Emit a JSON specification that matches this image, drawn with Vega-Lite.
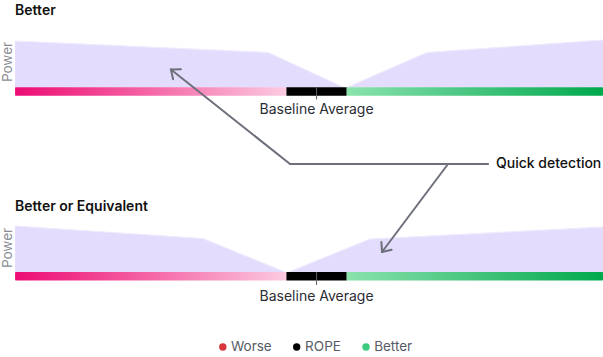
{
  "$schema": "https://vega.github.io/schema/vega-lite/v6.json",
  "width": 603,
  "height": 357,
  "padding": 0,
  "autosize": "none",
  "background": "white",
  "config": {"view": {"stroke": null}, "font": "Inter"},
  "datasets": {
    "areas": [
      {"panel": "Better", "side": "1L", "x": -1.0, "y": 41, "base": 87.5},
      {"panel": "Better", "side": "1L", "x": -0.161, "y": 52.5, "base": 87.5},
      {"panel": "Better", "side": "1L", "x": 0.091, "y": 87.5, "base": 87.5},
      {"panel": "Better", "side": "1R", "x": 0.1, "y": 87.5, "base": 87.5},
      {"panel": "Better", "side": "1R", "x": 0.366, "y": 52.5, "base": 87.5},
      {"panel": "Better", "side": "1R", "x": 0.95, "y": 40, "base": 87.5},
      {"panel": "Better or Equivalent", "side": "2L", "x": -1.0, "y": 226, "base": 272},
      {"panel": "Better or Equivalent", "side": "2L", "x": -0.377, "y": 238.5, "base": 272},
      {"panel": "Better or Equivalent", "side": "2L", "x": -0.105, "y": 272, "base": 272},
      {"panel": "Better or Equivalent", "side": "2R", "x": -0.092, "y": 272, "base": 272},
      {"panel": "Better or Equivalent", "side": "2R", "x": 0.177, "y": 239, "base": 272},
      {"panel": "Better or Equivalent", "side": "2R", "x": 0.95, "y": 227, "base": 272}
    ],
    "bars": [
      {"panel": "Better", "x": -1.0, "x2": -0.1, "y": 87.3, "y2": 95.8, "seg": "Worse"},
      {"panel": "Better", "x": -0.1, "x2": 0.1, "y": 87.3, "y2": 95.8, "seg": "ROPE"},
      {"panel": "Better", "x": 0.1, "x2": 0.95, "y": 87.3, "y2": 95.8, "seg": "Better"},
      {"panel": "Better or Equivalent", "x": -1.0, "x2": -0.1, "y": 272, "y2": 280.5, "seg": "Worse"},
      {"panel": "Better or Equivalent", "x": -0.1, "x2": 0.1, "y": 272, "y2": 280.5, "seg": "ROPE"},
      {"panel": "Better or Equivalent", "x": 0.1, "x2": 0.95, "y": 272, "y2": 280.5, "seg": "Better"}
    ],
    "ticks": [
      {"x": 0, "y": 87.3, "y2": 99.5},
      {"x": 0, "y": 272, "y2": 285}
    ],
    "baselines": [
      {"x": 0, "y": 110, "label": "Baseline Average"},
      {"x": 0, "y": 296.5, "label": "Baseline Average"}
    ],
    "titles": [
      {"x": -1.0, "y": 10.5, "label": "Better"},
      {"x": -1.0, "y": 206.5, "label": "Better or Equivalent"}
    ],
    "ylabels": [
      {"x": -1.024, "y": 62, "label": "Power"},
      {"x": -1.024, "y": 248, "label": "Power"}
    ],
    "arrows": [
      {"x": -0.088, "y": 164, "x2": -0.483, "y2": 69.5},
      {"x": -0.483, "y": 69.5, "x2": -0.450, "y2": 69.2},
      {"x": -0.483, "y": 69.5, "x2": -0.476, "y2": 79.3},
      {"x": -0.088, "y": 164, "x2": 0.569, "y2": 164},
      {"x": 0.436, "y": 164, "x2": 0.217, "y2": 252},
      {"x": 0.217, "y": 252, "x2": 0.215, "y2": 242},
      {"x": 0.217, "y": 252, "x2": 0.249, "y2": 249.7}
    ],
    "notes": [
      {"x": 0.595, "y": 163.5, "label": "Quick detection"}
    ],
    "legend": [
      {"dot": -0.311, "x": -0.284, "y": 347, "label": "Worse"},
      {"dot": -0.066, "x": -0.038, "y": 347, "label": "ROPE"},
      {"dot": 0.164, "x": 0.191, "y": 347, "label": "Better"}
    ]
  },
  "encoding": {},
  "layer": [
    {
      "data": {"name": "areas"},
      "mark": {"type": "area", "fill": "#e4dcfc", "fillOpacity": 1, "opacity": 1},
      "encoding": {
        "x": {"field": "x", "type": "quantitative", "scale": {"domain": [-1.05, 0.95], "nice": false, "zero": false}, "axis": null},
        "y": {"field": "y", "type": "quantitative", "stack": null, "scale": {"domain": [0, 357], "reverse": true, "nice": false, "zero": false}, "axis": null},
        "y2": {"field": "base"},
        "detail": {"field": "side", "type": "nominal"}
      }
    },
    {
      "data": {"name": "areas"},
      "mark": {"type": "line", "color": "#efeafe", "strokeWidth": 1.2},
      "encoding": {
        "x": {"field": "x", "type": "quantitative"},
        "y": {"field": "y", "type": "quantitative"},
        "detail": {"field": "side", "type": "nominal"}
      }
    },
    {
      "data": {"name": "bars"},
      "transform": [{"filter": "datum.seg === 'Worse'"}],
      "mark": {"type": "rect", "cornerRadiusTopLeft": 1, "cornerRadiusBottomLeft": 1, "fill": {"gradient": "linear", "x1": 0, "x2": 1, "y1": 0, "y2": 0, "stops": [{"offset": 0, "color": "#ec0c73"}, {"offset": 0.5, "color": "#f566a6"}, {"offset": 1, "color": "#fccbe1"}]}},
      "encoding": {
        "x": {"field": "x", "type": "quantitative"},
        "x2": {"field": "x2"},
        "y": {"field": "y", "type": "quantitative"},
        "y2": {"field": "y2"}
      }
    },
    {
      "data": {"name": "bars"},
      "transform": [{"filter": "datum.seg === 'ROPE'"}],
      "mark": {"type": "rect", "fill": "#000000"},
      "encoding": {
        "x": {"field": "x", "type": "quantitative"},
        "x2": {"field": "x2"},
        "y": {"field": "y", "type": "quantitative"},
        "y2": {"field": "y2"}
      }
    },
    {
      "data": {"name": "bars"},
      "transform": [{"filter": "datum.seg === 'Better'"}],
      "mark": {"type": "rect", "cornerRadiusTopRight": 1, "cornerRadiusBottomRight": 1, "fill": {"gradient": "linear", "x1": 0, "x2": 1, "y1": 0, "y2": 0, "stops": [{"offset": 0, "color": "#8ae3ab"}, {"offset": 0.5, "color": "#45c47e"}, {"offset": 1, "color": "#00a94c"}]}},
      "encoding": {
        "x": {"field": "x", "type": "quantitative"},
        "x2": {"field": "x2"},
        "y": {"field": "y", "type": "quantitative"},
        "y2": {"field": "y2"}
      }
    },
    {
      "data": {"name": "ticks"},
      "mark": {"type": "rule", "color": "#5d606a", "strokeWidth": 1},
      "encoding": {
        "x": {"field": "x", "type": "quantitative"},
        "y": {"field": "y", "type": "quantitative"},
        "y2": {"field": "y2"}
      }
    },
    {
      "data": {"name": "baselines"},
      "mark": {"type": "text", "align": "center", "baseline": "middle", "fontSize": 14, "color": "#2b2d35"},
      "encoding": {
        "x": {"field": "x", "type": "quantitative"},
        "y": {"field": "y", "type": "quantitative"},
        "text": {"field": "label"}
      }
    },
    {
      "data": {"name": "titles"},
      "mark": {"type": "text", "align": "left", "baseline": "middle", "fontSize": 14, "fontWeight": 600, "color": "#111111"},
      "encoding": {
        "x": {"field": "x", "type": "quantitative"},
        "y": {"field": "y", "type": "quantitative"},
        "text": {"field": "label"}
      }
    },
    {
      "data": {"name": "ylabels"},
      "mark": {"type": "text", "align": "center", "baseline": "middle", "angle": 270, "fontSize": 13.5, "color": "#8a8d96"},
      "encoding": {
        "x": {"field": "x", "type": "quantitative"},
        "y": {"field": "y", "type": "quantitative"},
        "text": {"field": "label"}
      }
    },
    {
      "data": {"name": "arrows"},
      "mark": {"type": "rule", "color": "#6d707a", "strokeWidth": 2, "strokeCap": "round"},
      "encoding": {
        "x": {"field": "x", "type": "quantitative"},
        "y": {"field": "y", "type": "quantitative"},
        "x2": {"field": "x2"},
        "y2": {"field": "y2"}
      }
    },
    {
      "data": {"name": "notes"},
      "mark": {"type": "text", "align": "left", "baseline": "middle", "fontSize": 14, "fontWeight": 500, "color": "#111111"},
      "encoding": {
        "x": {"field": "x", "type": "quantitative"},
        "y": {"field": "y", "type": "quantitative"},
        "text": {"field": "label"}
      }
    },
    {
      "data": {"name": "legend"},
      "mark": {"type": "point", "filled": true, "opacity": 1, "size": 55, "shape": "circle"},
      "encoding": {
        "x": {"field": "dot", "type": "quantitative"},
        "y": {"field": "y", "type": "quantitative"},
        "color": {"field": "label", "type": "nominal", "scale": {"domain": ["Worse", "ROPE", "Better"], "range": ["#d6363c", "#000000", "#3ccb7c"]}, "legend": null}
      }
    },
    {
      "data": {"name": "legend"},
      "mark": {"type": "text", "align": "left", "baseline": "middle", "fontSize": 13.5, "color": "#575b66"},
      "encoding": {
        "x": {"field": "x", "type": "quantitative"},
        "y": {"field": "y", "type": "quantitative"},
        "text": {"field": "label"}
      }
    }
  ]
}
